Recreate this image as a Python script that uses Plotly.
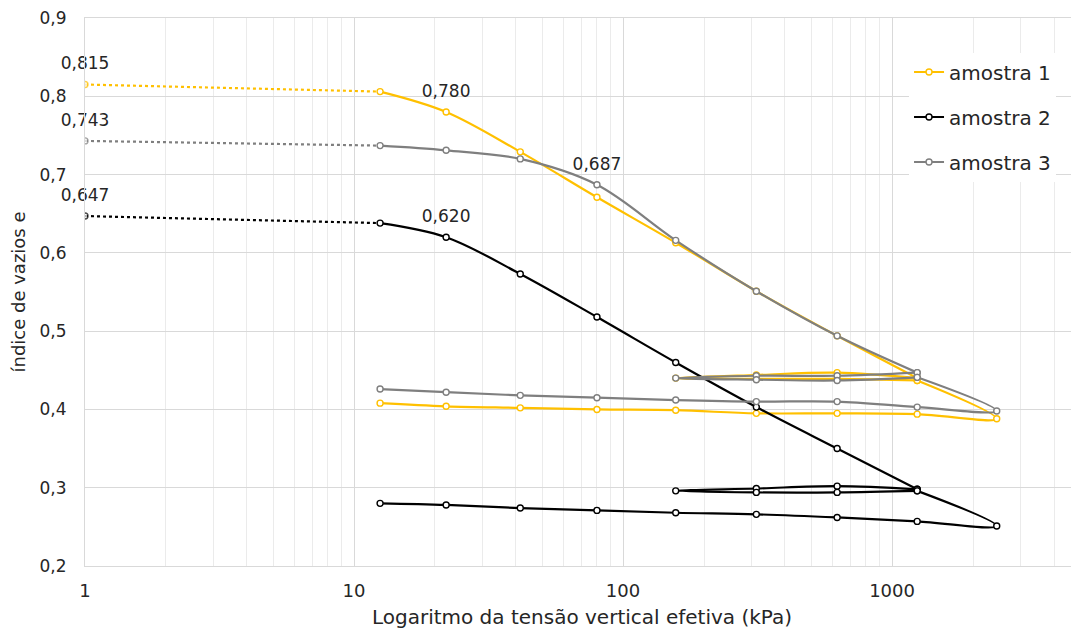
import plotly.graph_objects as go

# stress path (kPa): loading, unload/reload loop, loading, final unloading
tensao = [12.5, 22, 41.5, 80, 157, 313, 625, 1240,
          625, 313, 157, 313, 625, 1240,
          2450, 1240, 625, 313, 157, 80, 41.5, 22, 12.5]

# initial point plotted at 1 kPa (dotted segment up to first step)
tensao_ini = [1, 12.5]

e_amostra1 = [0.806, 0.780, 0.729, 0.671, 0.613, 0.551, 0.494, 0.440,
              0.447, 0.444, 0.440, 0.439, 0.439, 0.437,
              0.388, 0.394, 0.395, 0.395, 0.399, 0.400, 0.402, 0.404, 0.408]
e_amostra2 = [0.638, 0.620, 0.573, 0.518, 0.460, 0.403, 0.350, 0.298,
              0.302, 0.299, 0.296, 0.294, 0.294, 0.296,
              0.251, 0.257, 0.262, 0.266, 0.268, 0.271, 0.274, 0.278, 0.280]
e_amostra3 = [0.737, 0.731, 0.720, 0.687, 0.616, 0.551, 0.494, 0.447,
              0.443, 0.443, 0.440, 0.438, 0.437, 0.441,
              0.398, 0.403, 0.410, 0.410, 0.412, 0.415, 0.418, 0.422, 0.426]

e_ini = {"amostra 1": 0.815, "amostra 2": 0.647, "amostra 3": 0.743}

# which points carry a data label (index into tensao, -1 = initial point)
rotulos = {"amostra 1": [-1, 1], "amostra 2": [-1, 1], "amostra 3": [-1, 3]}

# the smoothed line is drawn per loading stage so reversals don't bulge
trechos = [(0, 8), (7, 14), (13, 23)]

series = [("amostra 1", e_amostra1, "#FFC000"),
          ("amostra 2", e_amostra2, "#000000"),
          ("amostra 3", e_amostra3, "#7F7F7F")]

FONT = "DejaVu Sans"
TXT = "#262626"

fig = go.Figure()

for nome, e, cor in series:
    marker = dict(symbol="circle", size=6, color="white", line=dict(color=cor, width=1.4))
    # dotted start segment
    fig.add_trace(go.Scatter(x=tensao_ini, y=[e_ini[nome], e[0]], mode="lines+markers",
                             line=dict(color=cor, width=2.2, dash="dot"),
                             marker=dict(marker, size=[6, 0]),
                             showlegend=False, hoverinfo="skip"))
    for k, (a, b) in enumerate(trechos):
        fig.add_trace(go.Scatter(x=tensao[a:b], y=e[a:b], name=nome,
                                 mode="lines+markers",
                                 line=dict(color=cor, width=2.2, shape="spline", smoothing=1),
                                 marker=marker, legendgroup=nome,
                                 showlegend=(k == 0)))

# data labels
for nome, e, cor in series:
    xs, ys = [], []
    for i in rotulos[nome]:
        if i < 0:
            xs.append(tensao_ini[0]); ys.append(e_ini[nome])
        else:
            xs.append(tensao[i]); ys.append(e[i])
    fig.add_trace(go.Scatter(x=xs, y=ys, mode="markers+text", texttemplate="%{y:.3f}",
                             textposition="top center", cliponaxis=False,
                             marker=dict(size=16, opacity=0),
                             textfont=dict(family=FONT, size=17, color=TXT),
                             showlegend=False, hoverinfo="skip"))

# page body has an 8px margin, so the figure is sized to fit inside the window
fig.update_layout(
    width=1071, height=631,
    margin=dict(l=77, r=0, t=10, b=73),
    paper_bgcolor="white", plot_bgcolor="white",
    separators=",.",
    font=dict(family=FONT, size=17, color=TXT),
    legend=dict(x=0.829, y=0.937, xanchor="left", yanchor="top",
                bgcolor="white", tracegroupgap=16, itemwidth=30,
                font=dict(family=FONT, size=20, color=TXT)),
)

fig.update_xaxes(type="log", range=[0, 3.695], dtick=1, tickformat="d",
                 showgrid=True, gridcolor="#D9D9D9", gridwidth=1,
                 minor=dict(dtick="D1", showgrid=True, gridcolor="#EBEBEB", gridwidth=1),
                 showline=True, mirror=True, linecolor="#D9D9D9", zeroline=False,
                 ticks="", ticklabelstandoff=8, automargin=False,
                 ticklabeloverflow="allow",
                 tickfont=dict(family=FONT, size=18),
                 title=dict(text="Logaritmo da tensão vertical efetiva (kPa)", standoff=10,
                            font=dict(family=FONT, size=20)))
fig.update_yaxes(range=[0.2, 0.9], dtick=0.1, tickformat=".1f",
                 showgrid=True, gridcolor="#D9D9D9", gridwidth=1,
                 showline=True, linecolor="#D9D9D9", zeroline=False,
                 ticks="", ticklabelstandoff=14, automargin=False,
                 ticklabeloverflow="allow",
                 tickfont=dict(family=FONT, size=17),
                 title=dict(text="índice de vazios e", standoff=11,
                            font=dict(family=FONT, size=18)))

fig.write_html("out.html")
